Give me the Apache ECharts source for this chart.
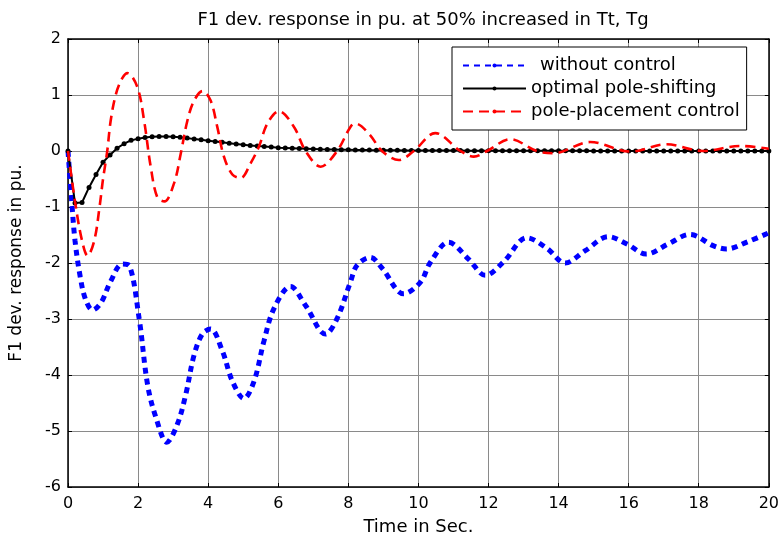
<!DOCTYPE html>
<html><head><meta charset="utf-8">
<script src="https://cdn.jsdelivr.net/npm/echarts@6/dist/echarts.min.js"></script>
<style>html,body{margin:0;padding:0;background:#fff}#c{width:782px;height:541px}</style>
</head><body><div id="c"></div>
<script>
// ---- data ----
const titleText = 'F1 dev. response in pu. at 50% increased in Tt, Tg';
const xName = 'Time in Sec.';
const yName = 'F1 dev. response in pu.';
const seriesNames = ['without control', 'optimal pole-shifting', 'pole-placement control'];

const tBlue = [0, 0.1, 0.2, 0.35, 0.5, 0.7, 0.95, 1.2, 1.55, 1.75, 2.03, 2.27, 2.51, 2.82, 3.12, 3.36, 3.6, 3.84, 4.07, 4.41, 4.69, 5.02, 5.31, 5.59, 5.88, 6.35, 6.78, 7.35, 7.68, 8.06, 8.25, 8.63, 8.96, 9.58, 10.06, 10.34, 10.86, 11.43, 11.91, 12.43, 13.1, 13.67, 14.19, 14.76, 15.42, 15.95, 16.5, 17.13, 17.75, 18.41, 18.79, 19.4, 20];
const vBlue = [0, -0.85, -1.6, -2.25, -2.65, -2.84, -2.7, -2.35, -2.02, -2.05, -2.99, -4.17, -4.76, -5.2, -4.88, -4.35, -3.64, -3.26, -3.18, -3.58, -4.11, -4.42, -4.11, -3.4, -2.81, -2.42, -2.76, -3.27, -2.99, -2.34, -2.04, -1.9, -2.09, -2.55, -2.34, -1.99, -1.63, -1.93, -2.22, -1.98, -1.55, -1.74, -2.0, -1.78, -1.53, -1.66, -1.84, -1.66, -1.49, -1.69, -1.75, -1.62, -1.46];

const tBlack = [];
for (let i = 0; i <= 100; i++) tBlack.push(+(i * 0.2).toFixed(1));
const vBlack = [0, -0.93, -0.92, -0.65, -0.42, -0.2, -0.07, 0.05, 0.13, 0.19, 0.22, 0.24, 0.255, 0.26, 0.26, 0.255, 0.245, 0.23, 0.215, 0.2,
  0.185, 0.17, 0.155, 0.14, 0.125, 0.11, 0.1, 0.09, 0.08, 0.07, 0.06, 0.055, 0.05, 0.045, 0.04, 0.035, 0.03, 0.028, 0.026, 0.024,
  0.022, 0.02, 0.018, 0.016, 0.015, 0.014, 0.013, 0.012, 0.011, 0.01, 0.01, 0.009, 0.009, 0.008, 0.008, 0.007, 0.007, 0.006, 0.006, 0.006,
  0.005, 0.005, 0.005, 0.005, 0.004, 0.004, 0.004, 0.004, 0.004, 0.003, 0.003, 0.003, 0.003, 0.003, 0.003, 0.002, 0.002, 0.002, 0.002, 0.002,
  0.002, 0.002, 0.002, 0.002, 0.001, 0.001, 0.001, 0.001, 0.001, 0.001, 0.001, 0.001, 0.001, 0.001, 0.001, 0.001, 0.001, 0.001, 0.001, 0.001, 0.001];

const tRed = [0, 0.2, 0.4, 0.56, 0.75, 0.9, 1.0, 1.12, 1.22, 1.37, 1.55, 1.7, 1.98, 2.17, 2.36, 2.55, 2.75, 3.03, 3.22, 3.41, 3.6, 3.84, 4.07, 4.26, 4.45, 4.69, 4.93, 5.21, 5.45, 5.69, 6.02, 6.45, 6.78, 7.21, 7.68, 8.06, 8.2, 8.6, 8.96, 9.44, 9.87, 10.48, 11.2, 11.58, 11.96, 12.62, 13.38, 13.85, 14.9, 16.04, 17.08, 18.13, 19.17, 20];
const vRed = [0, -0.9, -1.6, -1.87, -1.6, -1.0, -0.5, 0.0, 0.55, 1.02, 1.3, 1.39, 1.14, 0.55, -0.28, -0.83, -0.9, -0.57, -0.04, 0.55, 0.9, 1.07, 0.9, 0.43, -0.1, -0.42, -0.48, -0.22, 0.08, 0.49, 0.71, 0.43, 0.0, -0.28, 0.0, 0.43, 0.49, 0.3, 0.0, -0.16, 0.0, 0.32, 0.0, -0.1, 0.0, 0.21, 0.0, -0.04, 0.16, -0.01, 0.12, 0.0, 0.09, 0.04];

const xTicks = [0, 2, 4, 6, 8, 10, 12, 14, 16, 18, 20];
const yTicks = [-6, -5, -4, -3, -2, -1, 0, 1, 2];

function pairs(t, v) { return t.map((x, i) => [x, v[i]]); }

const font = 'DejaVu Sans, sans-serif';
const chart = echarts.init(document.getElementById('c'), null, {renderer: 'canvas'});
const axisLine = {show: true, onZero: false, lineStyle: {color: '#000', width: 1.5}};
const tick = {show: true, inside: true, length: 4, lineStyle: {color: '#000', width: 1}};
chart.setOption({
  animation: false,
  backgroundColor: '#fff',
  title: {text: titleText, left: 418, top: 6, textAlign: 'center',
    textStyle: {fontFamily: font, fontSize: 18, fontWeight: 'normal', color: '#000'}},
  grid: {left: 67, right: 12, top: 39, bottom: 51, containLabel: false},
  legend: {
    orient: 'vertical', left: 452, top: 47,
    padding: [8, 7, 8, 10], itemGap: 2, itemWidth: 63, itemHeight: 5,
    backgroundColor: '#fff', borderColor: '#000', borderWidth: 1, borderRadius: 0,
    textStyle: {fontFamily: font, fontSize: 18, color: '#000', lineHeight: 21},
    formatter: n => (n === seriesNames[0] ? '\u2002' + n : n),
    data: seriesNames
  },
  xAxis: [{
    type: 'value', min: 0, max: 20, interval: 2,
    name: xName, nameLocation: 'middle', nameGap: 31,
    nameTextStyle: {fontFamily: font, fontSize: 18, color: '#000'},
    axisLine: axisLine, axisTick: tick,
    axisLabel: {fontFamily: font, fontSize: 16, color: '#000', margin: 9,
      formatter: v => xTicks.includes(v) ? String(v) : ''},
    splitLine: {show: true, lineStyle: {color: '#8a8a8a', width: 1}}
  }, {
    type: 'value', position: 'top', min: 0, max: 20, interval: 2,
    axisLine: axisLine, axisTick: tick, axisLabel: {show: false}, splitLine: {show: false}
  }],
  yAxis: [{
    type: 'value', min: -6, max: 2, interval: 1,
    name: yName, nameLocation: 'middle', nameGap: 43, nameRotate: 90,
    nameTextStyle: {fontFamily: font, fontSize: 17, color: '#000'},
    axisLine: axisLine, axisTick: tick,
    axisLabel: {fontFamily: font, fontSize: 16, color: '#000', margin: 7,
      formatter: v => yTicks.includes(v) ? String(v) : ''},
    splitLine: {show: true, lineStyle: {color: '#8a8a8a', width: 1}}
  }, {
    type: 'value', position: 'right', min: -6, max: 2, interval: 1,
    axisLine: axisLine, axisTick: tick, axisLabel: {show: false}, splitLine: {show: false}
  }],
  series: [{
    name: seriesNames[0], type: 'line', data: pairs(tBlue, vBlue),
    symbol: 'none', smooth: 0.35, z: 3,
    lineStyle: {color: '#0000ff', width: 5, type: [6, 5], cap: 'butt'},
    itemStyle: {color: '#0000ff'}
  }, {
    name: seriesNames[1], type: 'line', data: pairs(tBlack, vBlack),
    symbol: 'circle', symbolSize: 5, showSymbol: true, z: 4,
    lineStyle: {color: '#000', width: 2},
    itemStyle: {color: '#000', borderWidth: 0}
  }, {
    name: seriesNames[2], type: 'line', data: pairs(tRed, vRed),
    symbol: 'circle', symbolSize: 5, showSymbol: false, smooth: 0.35, z: 5,
    lineStyle: {color: '#ff0000', width: 2.6, type: [10, 6]},
    itemStyle: {color: '#ff0000'}
  }]
});
</script></body></html>
